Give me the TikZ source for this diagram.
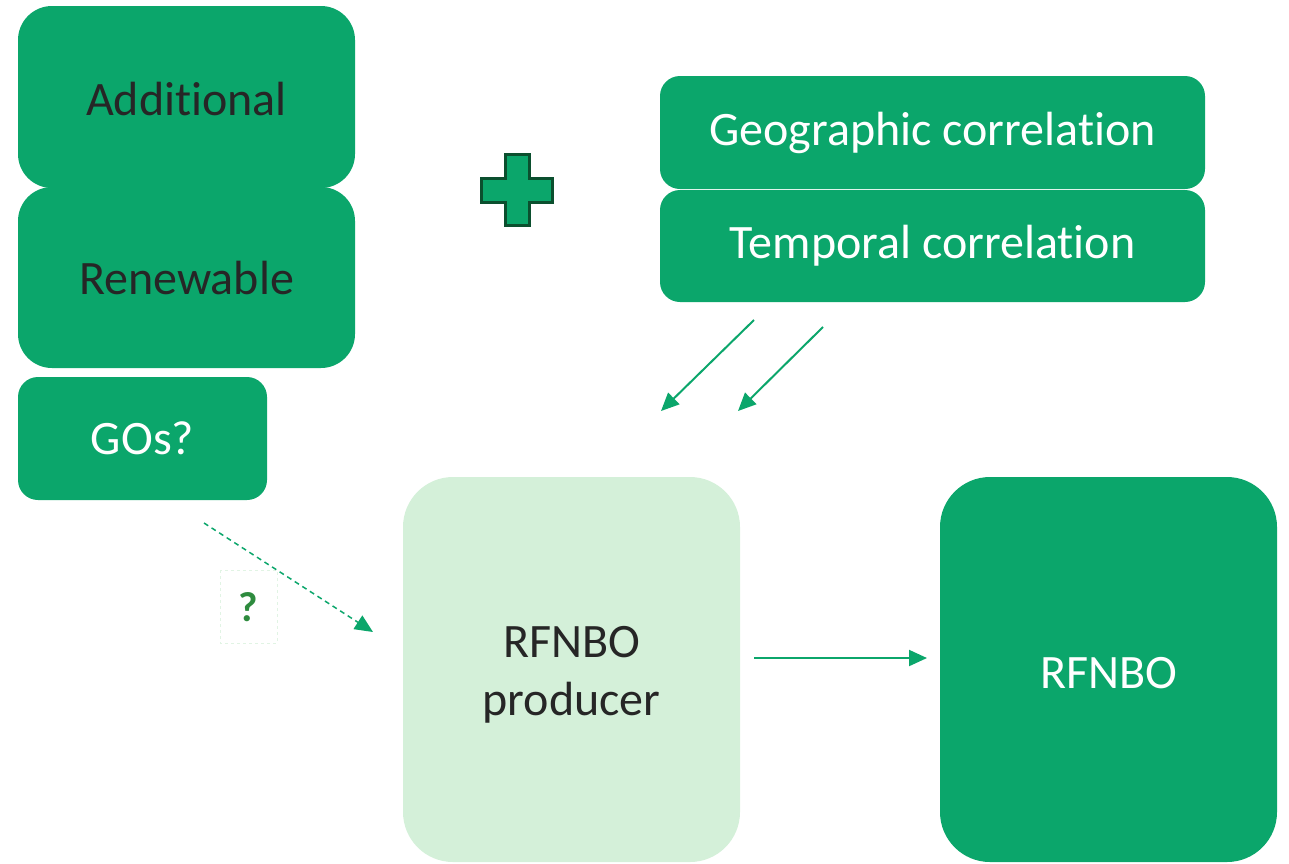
\documentclass[tikz,border=0pt]{standalone}
\usepackage{fontspec}
\setmainfont[Ligatures=NoCommon]{Carlito}
\usetikzlibrary{arrows.meta}
\definecolor{gmain}{HTML}{0BA66B}
\definecolor{glight}{HTML}{D4F0D9}
\definecolor{gdark}{HTML}{0B4F2E}
\definecolor{qgreen}{HTML}{2E8B3E}
\begin{document}
\begin{tikzpicture}[x=1pt,y=-1pt,
  txt/.style={font=\fontsize{48}{58}\selectfont,inner sep=0pt},
  arr/.style={draw=gmain,line width=2pt,-{Triangle[length=18pt,width=16pt]}},
]
\useasboundingbox (0,0) rectangle (1289,863);
% left stack
\path[fill=gmain,rounded corners=34pt] (18,6) rectangle (355,188);
\node[txt,text=black!85] (add) at (186.5,99) {Additional};
\path[fill=gmain,rounded corners=34pt] (18,187) rectangle (355,368);
\node[txt,text=black!85] (ren) at (186.5,278) {Renewable};
\path[fill=gmain,rounded corners=20pt] (18,377) rectangle (267,500);
\node[txt,text=white] (gos) at (142.5,438) {GOs?};
% right top stack
\path[fill=gmain,rounded corners=20pt] (660,76) rectangle (1205,189);
\node[txt,text=white] (geo) at (932.5,133) {Geographic correlation};
\path[fill=gmain,rounded corners=20pt] (660,190) rectangle (1205,302);
\node[txt,text=white] (tem) at (932.5,246) {Temporal correlation};
% plus
\draw[fill=gmain,draw=gdark,line width=3pt]
  (505,154) -- (529,154) -- (529,178) -- (552,178) -- (552,202) -- (529,202) -- (529,225)
  -- (505,225) -- (505,202) -- (481,202) -- (481,178) -- (505,178) -- cycle;
% lower boxes
\path[fill=glight,rounded corners=50pt] (403,477) rectangle (740,862);
\node[txt,align=center,text=black!85] (prod) at (571.5,675) {RFNBO\\producer};
\path[fill=gmain,rounded corners=50pt] (940,477) rectangle (1277,862);
\node[txt,text=white] (rfnbo) at (1108.5,673) {RFNBO};
% question box
\draw[draw=glight!70,dashed,line width=1pt] (220,570) rectangle (277,643);
\node[font=\fontsize{42}{48}\selectfont\bfseries,text=qgreen] (q) at (248.5,607) {?};
% arrows
\coordinate (a1s) at (754,320); \coordinate (a1e) at (661,411);
\coordinate (a2s) at (823,327); \coordinate (a2e) at (738,411);
\draw[arr] (a1s) -- (a1e);
\draw[arr] (a2s) -- (a2e);
\coordinate (ds) at (204,523); \coordinate (de) at (373,632);
\draw[draw=gmain,line width=1.5pt,dash pattern=on 5pt off 4pt,-{Triangle[length=18pt,width=16pt]}] (ds) -- (de);
\coordinate (hs) at (754,658); \coordinate (he) at (927,658);
\draw[arr] (hs) -- (he);
\end{tikzpicture}
\end{document}
